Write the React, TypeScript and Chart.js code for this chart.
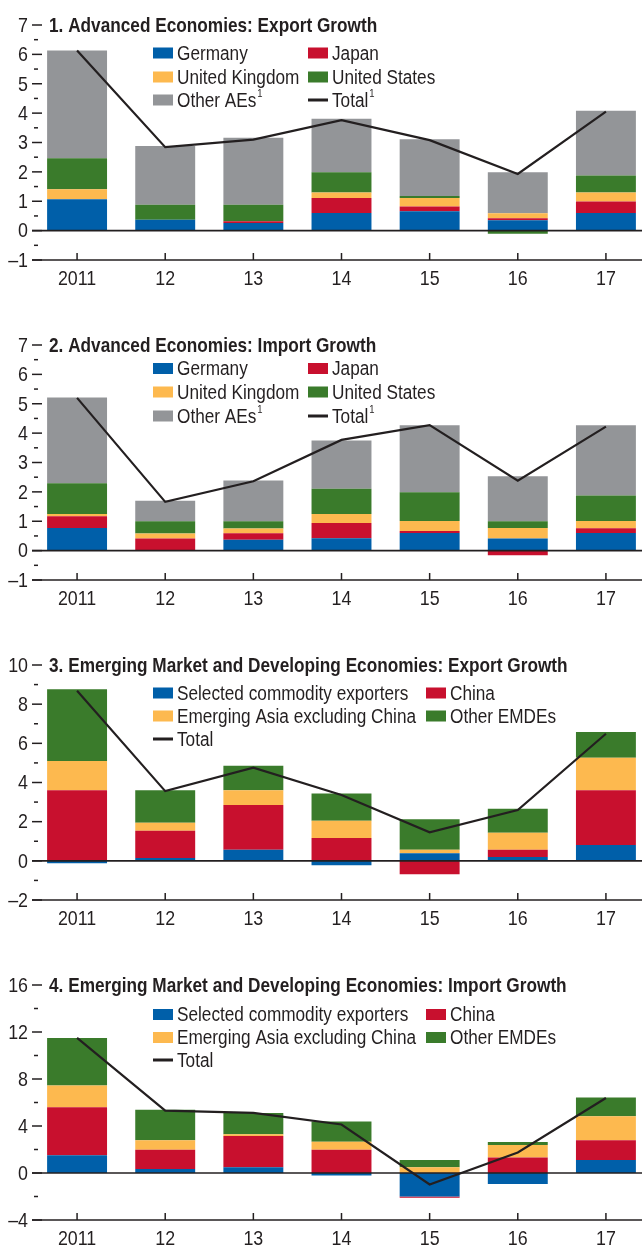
import React, { useEffect, useRef } from "react";
import { Chart, registerables } from "chart.js";

Chart.register(...registerables);

// ---------- data ----------
const categories = ["2011", "12", "13", "14", "15", "16", "17"];

// Panel 1: Advanced Economies, export growth
const aeExpGermany = [1.07, 0.37, 0.26, 0.6, 0.66, 0.35, 0.6];
const aeExpJapan = [0, 0, 0.06, 0.51, 0.16, 0.07, 0.39];
const aeExpUK = [0.34, 0, 0, 0.19, 0.29, 0.17, 0.31];
const aeExpUS = [1.05, 0.51, 0.56, 0.69, 0.07, -0.11, 0.58];
const aeExpOther = [3.67, 2.0, 2.28, 1.82, 1.93, 1.4, 2.2];
const aeExpTotal = [6.13, 2.84, 3.1, 3.76, 3.08, 1.93, 4.05];

// Panel 2: Advanced Economies, import growth
const aeImpGermany = [0.77, 0, 0.37, 0.42, 0.6, 0.41, 0.6];
const aeImpJapan = [0.4, 0.41, 0.22, 0.52, 0.07, -0.16, 0.16];
const aeImpUK = [0.08, 0.17, 0.16, 0.31, 0.34, 0.36, 0.25];
const aeImpUS = [1.04, 0.42, 0.25, 0.86, 0.98, 0.23, 0.87];
const aeImpOther = [2.92, 0.7, 1.39, 1.64, 2.28, 1.53, 2.39];
const aeImpTotal = [5.2, 1.66, 2.36, 3.77, 4.27, 2.38, 4.22];

// Panel 3: EMDEs, export growth
const emExpSelected = [-0.12, 0.14, 0.56, -0.22, 0.39, 0.2, 0.81];
const emExpChina = [3.61, 1.39, 2.29, 1.17, -0.68, 0.36, 2.8];
const emExpAsia = [1.49, 0.42, 0.76, 0.88, 0.17, 0.88, 1.66];
const emExpOther = [3.66, 1.66, 1.24, 1.39, 1.56, 1.22, 1.31];
const emExpTotal = [8.69, 3.56, 4.76, 3.36, 1.46, 2.59, 6.49];

// Panel 4: EMDEs, import growth
const emImpSelected = [1.52, 0.34, 0.48, -0.22, -1.99, -0.93, 1.1];
const emImpChina = [4.07, 1.63, 2.67, 1.97, -0.11, 1.32, 1.68];
const emImpAsia = [1.85, 0.81, 0.14, 0.7, 0.48, 1.07, 2.05];
const emImpOther = [4.05, 2.61, 1.82, 1.71, 0.62, 0.25, 1.6];
const emImpTotal = [11.5, 5.31, 5.11, 4.13, -0.98, 1.74, 6.38];

// axis ranges / tick steps [min, max, step]
const yRange1 = [-1, 7, 1];
const yRange2 = [-1, 7, 1];
const yRange3 = [-2, 10, 2];
const yRange4 = [-4, 16, 4];

const titles = [
  "1. Advanced Economies: Export Growth",
  "2. Advanced Economies: Import Growth",
  "3. Emerging Market and Developing Economies: Export Growth",
  "4. Emerging Market and Developing Economies: Import Growth",
];

const aeNames = ["Germany", "Japan", "United Kingdom", "United States", "Other AEs¹"];
const aeTotalName = "Total¹";
const emNames = ["Selected commodity exporters", "China", "Emerging Asia excluding China", "Other EMDEs"];
const emTotalName = "Total";

// ---------- styles ----------
const BLUE = "#005fa9";
const RED = "#c8102e";
const YELLOW = "#fdb94f";
const GREEN = "#3a7b2b";
const GRAY = "#939598";
const INK = "#231f20";
const FONT = '"Liberation Sans", Arial, sans-serif';

type LegendItem = { label: string; color: string; kind: "box" | "line" };

function drawText(ctx: CanvasRenderingContext2D, text: string, x: number, y: number, font: string, align: CanvasTextAlign, sx: number) {
  ctx.save();
  ctx.translate(x, y);
  ctx.scale(sx, 1);
  ctx.font = font;
  ctx.textAlign = align;
  ctx.textBaseline = "middle";
  ctx.fillText(text, 0, 0);
  const w = ctx.measureText(text).width * sx;
  ctx.restore();
  return w;
}

const fmt = (v: number) => (v < 0 ? "\u2013" + Math.abs(v) : String(v));

const decoPlugin = {
  id: "deco",
  afterDatasetsDraw(chart: any) {
    const o = chart.options.plugins.deco;
    const { ctx, chartArea: a } = chart;
    const x = chart.scales.x;
    const y = chart.scales.y;
    ctx.save();
    ctx.strokeStyle = INK;
    ctx.lineWidth = 1.6;
    // zero line
    const y0 = y.getPixelForValue(0);
    ctx.beginPath();
    ctx.moveTo(a.left - 1, y0);
    ctx.lineTo(a.right, y0);
    ctx.stroke();
    // bottom axis line
    ctx.beginPath();
    ctx.moveTo(a.left - 1, a.bottom);
    ctx.lineTo(a.right, a.bottom);
    ctx.stroke();
    // x ticks (inward)
    ctx.lineWidth = 1.5;
    for (let i = 0; i < chart.data.labels.length; i++) {
      const px = x.getPixelForValue(i);
      ctx.beginPath();
      ctx.moveTo(px, a.bottom);
      ctx.lineTo(px, a.bottom - 7);
      ctx.stroke();
    }
    // y ticks: majors and minors
    const { min, max, step } = o;
    for (let v = min; v <= max + 1e-9; v += step / 2) {
      const py = y.getPixelForValue(v);
      const major = Math.abs(Math.round(v / step) * step - v) < 1e-9;
      ctx.lineWidth = 1.5;
      ctx.beginPath();
      if (major) {
        ctx.moveTo(a.left - 1, py);
        ctx.lineTo(a.left + 9, py);
      } else {
        ctx.moveTo(a.left + 1, py);
        ctx.lineTo(a.left + 5, py);
      }
      ctx.stroke();
    }
    ctx.restore();
  },
  afterDraw(chart: any) {
    const o = chart.options.plugins.deco;
    const { ctx, chartArea: a } = chart;
    const x = chart.scales.x;
    const y = chart.scales.y;
    ctx.save();
    ctx.fillStyle = INK;
    // y tick labels
    const { min, max, step } = o;
    for (let v = min; v <= max + 1e-9; v += step) {
      drawText(ctx, fmt(v), a.left - 5, y.getPixelForValue(v) + 1, `21px ${FONT}`, "right", 0.85);
    }
    // x tick labels
    chart.data.labels.forEach((l: string, i: number) => {
      drawText(ctx, l, x.getPixelForValue(i), a.bottom + 19, `21px ${FONT}`, "center", 0.85);
    });
    // title
    drawText(ctx, o.title, a.left + 16, y.getPixelForValue(o.max) + 1, `bold 21px ${FONT}`, "left", 0.82);
    // legend
    const items: LegendItem[] = o.legend;
    items.forEach((it, idx) => {
      const col = idx % 2;
      const row = Math.floor(idx / 2);
      const bx = o.cols[col];
      const by = o.rows[row];
      ctx.fillStyle = it.color;
      if (it.kind === "box") ctx.fillRect(bx, by - 5.5, 20, 11);
      else ctx.fillRect(bx, by - 1.5, 20, 3);
      ctx.fillStyle = INK;
      let label = it.label;
      let sup = false;
      if (label.endsWith("¹")) {
        label = label.slice(0, -1);
        sup = true;
      }
      const w = drawText(ctx, label, bx + 24, by + 1, `20px ${FONT}`, "left", 0.86);
      if (sup) drawText(ctx, "1", bx + 24 + w + 1, by - 6, `11px ${FONT}`, "left", 0.86);
    });
    ctx.restore();
  },
};

type PanelSpec = {
  title: string;
  series: number[][];
  names: string[];
  colors: string[];
  total: number[];
  totalName: string;
  range: number[];
  cols: number[];
  rows: number[];
  height: number;
};

function Panel({ spec }: { spec: PanelSpec }) {
  const ref = useRef<HTMLCanvasElement | null>(null);
  useEffect(() => {
    if (!ref.current) return;
    const [min, max, step] = spec.range;
    const bars = spec.series.map((d, i) => ({
      type: "bar" as const,
      label: spec.names[i],
      data: d,
      backgroundColor: spec.colors[i],
      borderWidth: 0,
      barPercentage: 0.68,
      categoryPercentage: 1.0,
      stack: "s",
      order: 1,
    }));
    const line = {
      type: "line" as const,
      label: spec.totalName,
      data: spec.total,
      borderColor: INK,
      borderWidth: 2.2,
      pointRadius: 0,
      tension: 0,
      fill: false,
      stack: "total",
      order: 0,
    };
    const legend: LegendItem[] = [
      ...spec.names.map((n, i) => ({ label: n, color: spec.colors[i], kind: "box" as const })),
      { label: spec.totalName, color: INK, kind: "line" as const },
    ];
    const chart = new Chart(ref.current, {
      type: "bar",
      data: { labels: categories, datasets: [...bars, line] as any },
      options: {
        responsive: false,
        animation: false,
        layout: { padding: { top: 25, left: 0, right: 0, bottom: 0 } },
        plugins: {
          legend: { display: false },
          tooltip: { enabled: false },
          deco: { title: spec.title, min, max, step, legend, cols: spec.cols, rows: spec.rows },
        } as any,
        scales: {
          x: {
            stacked: true,
            grid: { display: false, drawTicks: false },
            border: { display: false },
            ticks: { display: false },
            afterFit(s: any) {
              s.height = 60;
            },
          },
          y: {
            stacked: true,
            min,
            max,
            grid: { display: false, drawTicks: false },
            border: { display: false },
            ticks: { display: false, stepSize: step },
            afterFit(s: any) {
              s.width = 33;
            },
          },
        },
      } as any,
      plugins: [decoPlugin as any],
    });
    return () => chart.destroy();
  }, [spec]);
  return (
    <div style={{ width: 650, height: spec.height, overflow: "hidden" }}>
      <canvas ref={ref} width={650} height={320} style={{ display: "block" }} />
    </div>
  );
}

const aeColors = [BLUE, RED, YELLOW, GREEN, GRAY];
const emColors = [BLUE, RED, YELLOW, GREEN];

const specs: PanelSpec[] = [
  {
    title: titles[0],
    series: [aeExpGermany, aeExpJapan, aeExpUK, aeExpUS, aeExpOther],
    names: aeNames,
    colors: aeColors,
    total: aeExpTotal,
    totalName: aeTotalName,
    range: yRange1,
    cols: [153, 308],
    rows: [53, 77, 100],
    height: 320,
  },
  {
    title: titles[1],
    series: [aeImpGermany, aeImpJapan, aeImpUK, aeImpUS, aeImpOther],
    names: aeNames,
    colors: aeColors,
    total: aeImpTotal,
    totalName: aeTotalName,
    range: yRange2,
    cols: [153, 308],
    rows: [48.5, 72, 96],
    height: 320,
  },
  {
    title: titles[2],
    series: [emExpSelected, emExpChina, emExpAsia, emExpOther],
    names: emNames,
    colors: emColors,
    total: emExpTotal,
    totalName: emTotalName,
    range: yRange3,
    cols: [153, 426],
    rows: [53, 76, 99],
    height: 320,
  },
  {
    title: titles[3],
    series: [emImpSelected, emImpChina, emImpAsia, emImpOther],
    names: emNames,
    colors: emColors,
    total: emImpTotal,
    totalName: emTotalName,
    range: yRange4,
    cols: [153, 426],
    rows: [54.5, 77.5, 100],
    height: 287,
  },
];

export default function App() {
  useEffect(() => {
    document.body.style.margin = "0";
  }, []);
  return (
    <div style={{ width: 642, height: 1247, overflow: "hidden", background: "#fff" }}>
      {specs.map((s, i) => (
        <Panel key={i} spec={s} />
      ))}
    </div>
  );
}
